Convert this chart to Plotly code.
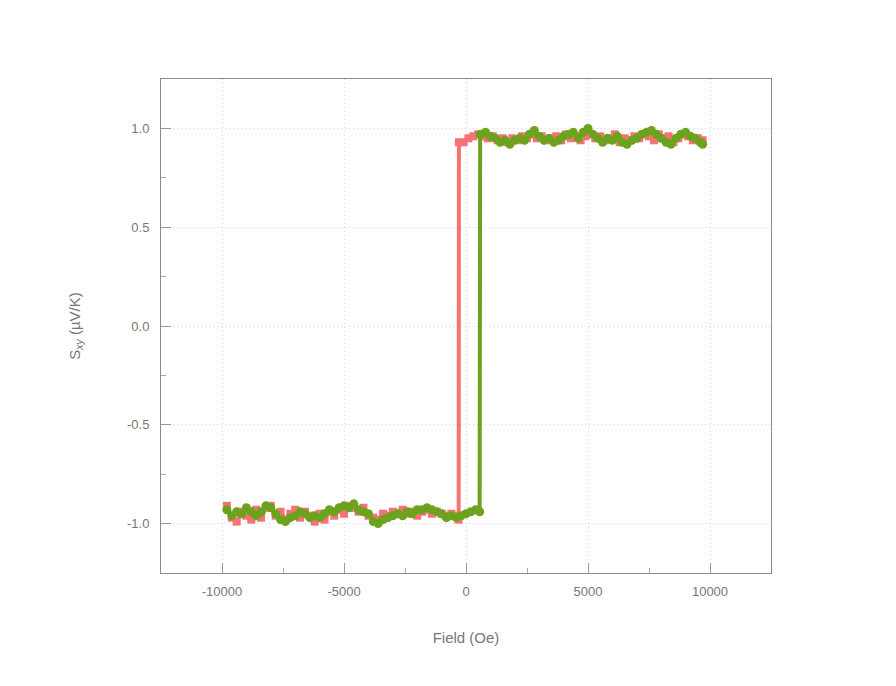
import plotly.graph_objects as go

# Red sweep
red_x = [-9800, -9600, -9400, -9200, -9000, -8800, -8600, -8400, -8200, -8000,
         -7800, -7600, -7400, -7200, -7000, -6800, -6600, -6400, -6200, -6000,
         -5800, -5600, -5400, -5200, -5000, -4800, -4600, -4400, -4200, -4000,
         -3800, -3600, -3400, -3200, -3000, -2800, -2600, -2400, -2200, -2000,
         -1800, -1600, -1400, -1200, -1000, -800, -600, -400, -300, -290,
         -100, 100, 300, 500, 700, 900, 1100, 1300, 1500, 1700,
         1900, 2100, 2300, 2500, 2700, 2900, 3100, 3300, 3500, 3700,
         3900, 4100, 4300, 4500, 4700, 4900, 5100, 5300, 5500, 5700,
         5900, 6100, 6300, 6500, 6700, 6900, 7100, 7300, 7500, 7700,
         7900, 8100, 8300, 8500, 8700, 8900, 9100, 9300, 9500, 9700]
red_y = [-0.91, -0.97, -0.99, -0.94, -0.96, -0.98, -0.93, -0.97, -0.92, -0.91,
         -0.96, -0.94, -0.98, -0.95, -0.93, -0.97, -0.94, -0.96, -0.99, -0.95,
         -0.98, -0.94, -0.96, -0.93, -0.95, -0.91, -0.92, -0.94, -0.92, -0.96,
         -0.97, -0.98, -0.95, -0.96, -0.94, -0.95, -0.93, -0.95, -0.94, -0.96,
         -0.94, -0.93, -0.95, -0.94, -0.95, -0.96, -0.95, -0.96, -0.98, 0.93,
         0.93, 0.95, 0.96, 0.97, 0.96, 0.95, 0.96, 0.94, 0.95, 0.93,
         0.95, 0.94, 0.96, 0.95, 0.97, 0.95, 0.96, 0.94, 0.95, 0.96,
         0.94, 0.97, 0.95, 0.96, 0.94, 0.96, 0.97, 0.95, 0.96, 0.94,
         0.95, 0.97, 0.93, 0.95, 0.94, 0.96, 0.95, 0.97, 0.96, 0.94,
         0.97, 0.95, 0.96, 0.93, 0.95, 0.97, 0.96, 0.94, 0.95, 0.94]

# Green sweep
green_x = [-9800, -9600, -9400, -9200, -9000, -8800, -8600, -8400, -8200, -8000,
           -7800, -7600, -7400, -7200, -7000, -6800, -6600, -6400, -6200, -6000,
           -5800, -5600, -5400, -5200, -5000, -4800, -4600, -4400, -4200, -4000,
           -3800, -3600, -3400, -3200, -3000, -2800, -2600, -2400, -2200, -2000,
           -1800, -1600, -1400, -1200, -1000, -800, -600, -400, -200, 0,
           200, 400, 560, 580, 800, 1000, 1200, 1400, 1600, 1800,
           2000, 2200, 2400, 2600, 2800, 3000, 3200, 3400, 3600, 3800,
           4000, 4200, 4400, 4600, 4800, 5000, 5200, 5400, 5600, 5800,
           6000, 6200, 6400, 6600, 6800, 7000, 7200, 7400, 7600, 7800,
           8000, 8200, 8400, 8600, 8800, 9000, 9200, 9400, 9600, 9700]
green_y = [-0.93, -0.96, -0.94, -0.95, -0.92, -0.94, -0.96, -0.94, -0.91, -0.92,
           -0.95, -0.98, -0.99, -0.97, -0.96, -0.94, -0.95, -0.97, -0.96, -0.97,
           -0.95, -0.93, -0.94, -0.92, -0.91, -0.92, -0.90, -0.93, -0.94, -0.95,
           -0.99, -1.00, -0.98, -0.97, -0.96, -0.95, -0.96, -0.94, -0.95, -0.93,
           -0.93, -0.92, -0.93, -0.94, -0.95, -0.97, -0.96, -0.97, -0.96, -0.95,
           -0.94, -0.93, -0.94, 0.97, 0.98, 0.96, 0.95, 0.93, 0.94, 0.92,
           0.94, 0.95, 0.94, 0.97, 0.99, 0.96, 0.94, 0.95, 0.93, 0.94,
           0.96, 0.97, 0.98, 0.95, 0.98, 1.00, 0.97, 0.95, 0.93, 0.95,
           0.94, 0.96, 0.93, 0.92, 0.94, 0.95, 0.97, 0.98, 0.99, 0.97,
           0.95, 0.93, 0.92, 0.95, 0.97, 0.98, 0.96, 0.95, 0.93, 0.92]

x_ticks = [-10000, -5000, 0, 5000, 10000]
y_ticks = [-1.0, -0.5, 0.0, 0.5, 1.0]
y_tick_text = ["-1.0", "-0.5", "0.0", "0.5", "1.0"]

RED = "#f77272"
GREEN = "#6ba31f"
FONT = "Liberation Sans, Arial, sans-serif"

fig = go.Figure()
fig.add_trace(go.Scatter(x=red_x, y=red_y, mode="lines+markers",
                         line=dict(color=RED, width=4),
                         marker=dict(symbol="square", size=8, color=RED),
                         showlegend=False))
fig.add_trace(go.Scatter(x=green_x, y=green_y, mode="lines+markers",
                         line=dict(color=GREEN, width=4),
                         marker=dict(symbol="circle", size=9, color=GREEN),
                         showlegend=False))

axis_common = dict(
    showline=True, linecolor="#8a8a8a", linewidth=1, mirror=True,
    ticks="inside", ticklen=10, tickcolor="#9a9a9a",
    showgrid=True, gridcolor="#d6d6d6", griddash="1px,3px", gridwidth=1,
    zeroline=False,
    tickfont=dict(family=FONT, size=13, color="#777777"),
)

fig.update_xaxes(range=[-12500, 12500], tickvals=x_ticks,
                 ticktext=[str(v) for v in x_ticks],
                 ticklabelstandoff=6,
                 minor=dict(dtick=2500, tick0=0, ticks="inside", ticklen=5,
                            tickcolor="#aaaaaa", showgrid=False),
                 title=dict(text="Field (Oe)", standoff=34,
                            font=dict(family=FONT, size=15, color="#777777")),
                 **axis_common)
fig.update_yaxes(range=[-1.25, 1.25], tickvals=y_ticks, ticktext=y_tick_text,
                 ticklabelstandoff=8,
                 minor=dict(dtick=0.25, tick0=0, ticks="inside", ticklen=5,
                            tickcolor="#aaaaaa", showgrid=False),
                 title=dict(text="S<sub><i>xy</i></sub> (µV/K)", standoff=42,
                            font=dict(family=FONT, size=15, color="#777777")),
                 **axis_common)

fig.update_layout(
    width=896, height=686,
    margin=dict(l=153, r=133, t=71, b=121),
    plot_bgcolor="white", paper_bgcolor="white",
    font=dict(family=FONT, color="#777777"),
)

fig.write_html("out.html")
